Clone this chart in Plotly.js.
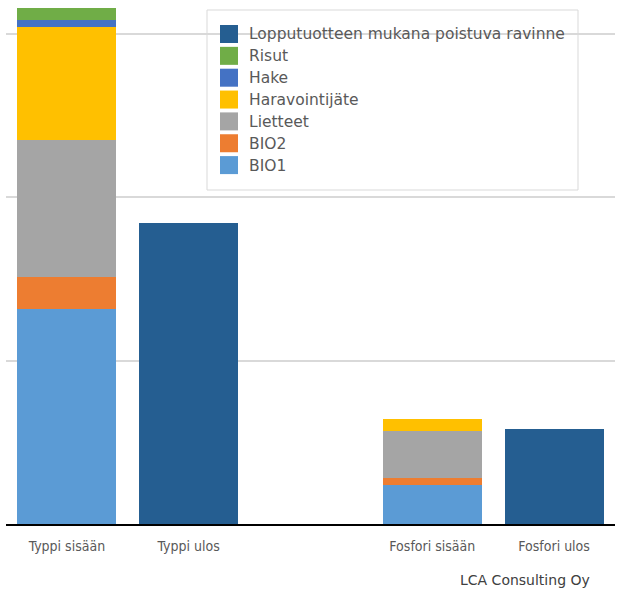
<!DOCTYPE html>
<html><head><meta charset="utf-8">
<script src="https://cdn.plot.ly/plotly-3.0.1.min.js"></script>
<style>html,body{margin:0;padding:0;background:#fff}#chart{width:622px;height:592px}</style>
</head><body><div id="chart"></div>
<script>
const categories = ["Typpi sisään", "Typpi ulos", " ", "Fosfori sisään", "Fosfori ulos"];
const bio1 = [131.5, null, null, 23.9, null];
const bio2 = [19.6, null, null, 4.3, null];
const lietteet = [83.8, null, null, 28.7, null];
const haravointijate = [69.1, null, null, 7.3, null];
const hake = [4.3, null, null, 0, null];
const risut = [7.3, null, null, 0, null];
const lopputuote = [null, 184.1, null, null, 58.1];
const seriesNames = ["BIO1", "BIO2", "Lietteet", "Haravointijäte", "Hake", "Risut", "Lopputuotteen mukana poistuva ravinne"];
const seriesValues = [bio1, bio2, lietteet, haravointijate, hake, risut, lopputuote];
const colors = ["#5B9BD5", "#ED7D31", "#A5A5A5", "#FFC000", "#4472C4", "#70AD47", "#255E91"];
const sourceText = "LCA Consulting Oy";

const W = 622, H = 592, M = {l: 6, r: 7, t: 0, b: 68};
const pw = W - M.l - M.r, ph = H - M.t - M.b;
const px = x => (x - M.l) / pw;
const py = y => (ph + M.t - y) / ph;

const traces = seriesNames.map((n, i) => ({
  type: "bar", name: n, x: categories, y: seriesValues[i],
  marker: {color: colors[i], line: {width: 0}}, hoverinfo: "none", showlegend: false
}));

const shapes = [{
  type: "rect", xref: "paper", yref: "paper",
  x0: px(207), x1: px(578), y0: py(190), y1: py(10),
  line: {color: "#d9d9d9", width: 1}, fillcolor: "#ffffff", layer: "below"
}];
const annotations = [];
const order = seriesNames.map((_, i) => i).reverse();
order.forEach((si, k) => {
  const cy = 34 + 21.85 * k;
  shapes.push({
    type: "rect", xref: "paper", yref: "paper",
    x0: px(220), x1: px(238), y0: py(cy + 9), y1: py(cy - 9),
    line: {width: 0}, fillcolor: colors[si], layer: "above"
  });
  annotations.push({
    text: seriesNames[si], xref: "paper", yref: "paper", x: px(247), y: py(cy + 0.5),
    xanchor: "left", yanchor: "middle", showarrow: false,
    font: {family: "DejaVu Sans, sans-serif", size: 15.5, color: "#595959"}
  });
});
annotations.push({
  text: sourceText, xref: "paper", yref: "paper", x: px(592), y: py(580),
  xanchor: "right", yanchor: "middle", showarrow: false,
  font: {family: "DejaVu Sans, sans-serif", size: 14, color: "#404040"}
});

const layout = {
  width: W, height: H, margin: M,
  barmode: "stack", bargap: 0.187, showlegend: false,
  paper_bgcolor: "#fff", plot_bgcolor: "#fff",
  font: {family: "DejaVu Sans, sans-serif", color: "#595959"},
  xaxis: {
    type: "category", categoryorder: "array", categoryarray: categories,
    range: [-0.5, 4.5], showline: true, linecolor: "#000", linewidth: 2,
    ticks: "", showgrid: false, fixedrange: true, ticklabelstandoff: 8,
    tickfont: {family: "Liberation Sans Narrow, DejaVu Sans Condensed, sans-serif", size: 14, color: "#595959"}
  },
  yaxis: {
    range: [0, 320.5], dtick: 100, showticklabels: false, showgrid: true,
    gridcolor: "#d9d9d9", gridwidth: 2, zeroline: false, fixedrange: true
  },
  shapes: shapes,
  annotations: annotations
};
Plotly.newPlot("chart", traces, layout, {displayModeBar: false, staticPlot: true});
</script></body></html>
